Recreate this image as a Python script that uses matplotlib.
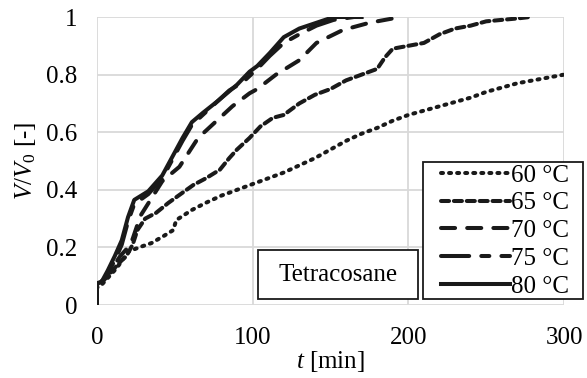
import matplotlib.pyplot as plt
from matplotlib.patches import Rectangle

plt.rcParams['font.family'] = 'serif'
plt.rcParams['font.serif'] = ['Liberation Serif', 'Times New Roman', 'DejaVu Serif']
plt.rcParams['mathtext.fontset'] = 'custom'
plt.rcParams['mathtext.it'] = 'Liberation Serif:italic'
plt.rcParams['mathtext.rm'] = 'Liberation Serif'

t60 = [0, 0, 3, 8, 13, 20, 27, 35, 43, 49, 51, 61, 70, 80, 90, 100, 110, 120, 130, 140, 150,
       160, 170, 180, 190, 200, 210, 220, 230, 240, 250, 260, 270, 280, 290, 300]
v60 = [0, 0.06, 0.07, 0.10, 0.13, 0.185, 0.20, 0.215, 0.24, 0.26, 0.295, 0.33, 0.355, 0.38,
       0.40, 0.42, 0.44, 0.46, 0.485, 0.51, 0.54, 0.57, 0.595, 0.615, 0.64, 0.66, 0.675, 0.69,
       0.705, 0.72, 0.74, 0.755, 0.77, 0.78, 0.79, 0.80]

t65 = [0, 0, 5, 10, 15, 19, 23, 26, 31, 38, 46, 55, 62, 70, 79, 85, 90, 98, 105, 113, 120, 130,
       140, 150, 160, 170, 180, 185, 190, 200, 210, 220, 230, 240, 250, 260, 270, 278]
v65 = [0, 0.07, 0.09, 0.12, 0.15, 0.17, 0.21, 0.26, 0.30, 0.32, 0.355, 0.39, 0.417, 0.44, 0.47,
       0.51, 0.54, 0.58, 0.62, 0.65, 0.66, 0.70, 0.73, 0.75, 0.78, 0.80, 0.82, 0.86, 0.89, 0.90,
       0.91, 0.94, 0.96, 0.97, 0.985, 0.99, 0.995, 1.0]

t70 = [0, 0, 5, 10, 15, 20, 23, 28, 35, 42, 53, 65, 75, 87, 98, 103, 115, 130, 141, 158, 175,
       195]
v70 = [0, 0.07, 0.09, 0.13, 0.17, 0.20, 0.23, 0.31, 0.37, 0.43, 0.48, 0.58, 0.63, 0.69, 0.735,
       0.75, 0.80, 0.85, 0.91, 0.955, 0.98, 1.0]

t75 = [0, 0, 3, 7, 12, 16, 20, 24, 33, 42, 55, 61, 68, 78, 85, 94, 103, 111, 120, 130, 141,
       152, 165]
v75 = [0, 0.075, 0.08, 0.11, 0.16, 0.21, 0.29, 0.35, 0.385, 0.44, 0.57, 0.625, 0.66, 0.71,
       0.745, 0.775, 0.82, 0.865, 0.91, 0.94, 0.97, 0.99, 1.0]

t80 = [0, 0, 3, 7, 11.5, 16, 20, 24, 33, 42, 55, 61, 68, 78, 90, 98, 103, 111, 120, 130, 141,
       152, 170]
v80 = [0, 0.076, 0.08, 0.12, 0.17, 0.225, 0.305, 0.365, 0.395, 0.45, 0.58, 0.635, 0.667, 0.71,
       0.765, 0.81, 0.83, 0.875, 0.93, 0.96, 0.98, 1.0, 1.0]

labels = ['60 °C', '65 °C', '70 °C', '75 °C', '80 °C']

fig = plt.figure(figsize=(5.87, 3.78), dpi=100)
ax = fig.add_axes([0.165, 0.193, 0.796, 0.762])

fs = 18
lw = 2.9
ink = '#1a1a1a'
ax.plot(t60, v60, color=ink, lw=lw, linestyle=(0, (0.5, 1.5)), dash_capstyle='round',
        label=labels[0])
ax.plot(t65, v65, color=ink, lw=lw, linestyle=(0, (2.0, 1.2)), dash_capstyle='round',
        label=labels[1])
ax.plot(t70, v70, color=ink, lw=lw, linestyle=(0, (3.5, 3.0)), dash_capstyle='round',
        label=labels[2])
ax.plot(t75, v75, color=ink, lw=lw, linestyle=(0, (7.0, 3.0, 2.0, 3.0)),
        dash_capstyle='round', label=labels[3])
ax.plot(t80, v80, color=ink, lw=lw, linestyle='-', label=labels[4])

ax.set_xlim(0, 300)
ax.set_ylim(0, 1)
ax.set_xticks([0, 100, 200, 300])
ax.set_yticks([0, 0.2, 0.4, 0.6, 0.8, 1])
ax.set_yticklabels(['0', '0.2', '0.4', '0.6', '0.8', '1'])
ax.grid(True, color='#d9d9d9', lw=1.3)
ax.set_axisbelow(True)
for s in ax.spines.values():
    s.set_visible(False)
ax.tick_params(length=0, labelsize=fs, pad=14)
ax.tick_params(axis='x', pad=16)

ax.set_xlabel(r'$t$ [min]', fontsize=fs, labelpad=0)
ax.set_ylabel(r'$V/V_0$ [-]', fontsize=fs, labelpad=6)

# legend frame drawn separately so it can stick out past the plot area
ax.add_patch(Rectangle((0.698, 0.021), 0.343, 0.476, transform=ax.transAxes, fc='white',
                       ec=ink, lw=1.3, zorder=5, clip_on=False))
leg = ax.legend(loc='lower right', bbox_to_anchor=(1.022, 0.008), fontsize=fs, frameon=False,
                handlelength=2.75, handletextpad=0.05, labelspacing=0.21, borderpad=0.2,
                borderaxespad=0.0)
leg.set_zorder(6)

# label box in the lower middle
ax.add_patch(Rectangle((0.345, 0.021), 0.342, 0.170, transform=ax.transAxes, fc='white',
                       ec=ink, lw=1.3, zorder=5))
ax.text(0.516, 0.106, 'Tetracosane', transform=ax.transAxes, fontsize=fs, ha='center',
        va='center', zorder=6)

fig.savefig('out.png', dpi=100)
